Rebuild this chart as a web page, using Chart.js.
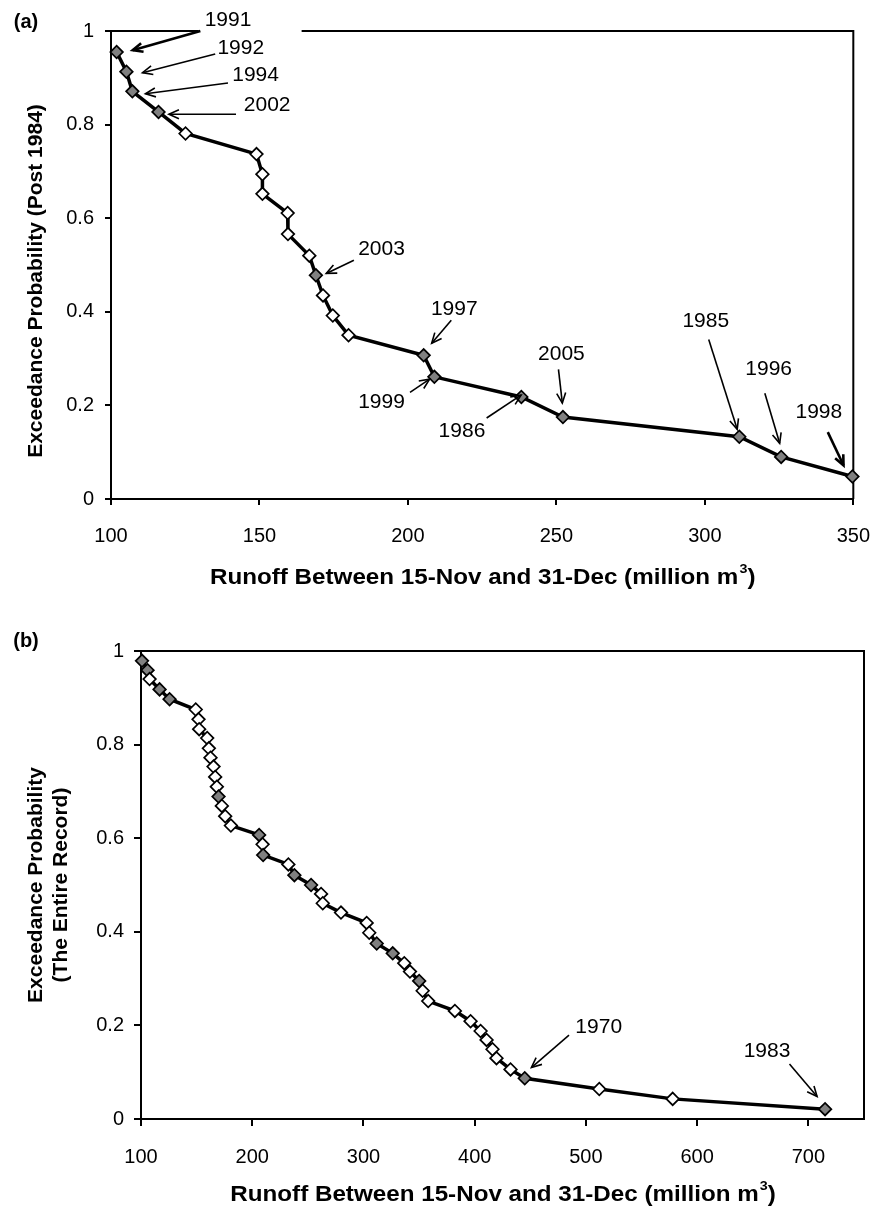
<!DOCTYPE html>
<html>
<head>
<meta charset="utf-8">
<script src="https://cdn.jsdelivr.net/npm/chart.js@4.4.0/dist/chart.umd.min.js"></script>
<style>
  body { margin: 0; background: #fff; }
  canvas { display: block; }
</style>
</head>
<body>
<canvas id="chartA" width="889" height="607"></canvas>
<canvas id="chartB" width="889" height="607"></canvas>
<script>
// (a) post 1984 record
const runoffA = [101.9, 105.2, 107.2, 116.0, 125.1, 149.0, 151.0, 151.0, 159.5, 159.6, 166.8,
                 169.0, 171.4, 174.7, 180.0, 205.3, 208.9, 238.2, 252.2, 311.6, 325.7, 349.7];
const probA = [0.955, 0.913, 0.871, 0.827, 0.781, 0.737, 0.694, 0.652, 0.611, 0.566, 0.520,
               0.478, 0.435, 0.392, 0.350, 0.307, 0.261, 0.218, 0.175, 0.133, 0.090, 0.048];
const markedA = [1, 1, 1, 1, 0, 0, 0, 0, 0, 0, 0, 1, 0, 0, 0, 1, 1, 1, 1, 1, 1, 1];
const xTicksA = [100, 350, 50];

// (b) entire record
const runoffB = [100.9, 105.9, 107.7, 116.7, 125.7, 149.2, 151.7, 152.3, 159.5, 161.0, 162.5, 165.2,
                 166.7, 168.2, 169.7, 172.7, 175.7, 180.8, 206.2, 209.3, 209.8, 232.5, 237.9, 252.9,
                 261.9, 263.4, 279.8, 302.9, 305.2, 311.9, 326.3, 336.7, 341.8, 350.1, 353.2, 358.2,
                 382.2, 396.3, 405.3, 410.7, 416.0, 419.6, 432.2, 445.0, 512.0, 578.0, 715.0];
const probB = [0.979, 0.959, 0.940, 0.918, 0.897, 0.875, 0.854, 0.833, 0.814, 0.792, 0.772, 0.753,
               0.731, 0.710, 0.689, 0.669, 0.647, 0.627, 0.607, 0.587, 0.564, 0.544, 0.521, 0.500,
               0.481, 0.461, 0.441, 0.419, 0.398, 0.375, 0.354, 0.333, 0.315, 0.295, 0.274, 0.252,
               0.231, 0.209, 0.188, 0.169, 0.149, 0.130, 0.106, 0.087, 0.064, 0.043, 0.021];
const markedB = [1, 1, 0, 1, 1, 0, 0, 0, 0, 0, 0, 0, 0, 0, 1, 0, 0, 0, 1, 0, 1, 0, 1, 1,
                 0, 0, 0, 0, 0, 1, 1, 0, 0, 1, 0, 0, 0, 0, 0, 0, 0, 0, 0, 1, 0, 0, 1];
const xTicksB = [100, 750, 100];

// year labels: text spot, arrow tail, arrow head (data units)
const notesA = [
  { t: '1991', tx: 139.4, ty: 1.023, x0: 130.1, y0: 1.000, x1: 107.3, y1: 0.959, w: 2.6 },
  { t: '1992', tx: 143.7, ty: 0.964, x0: 135.1, y0: 0.951, x1: 110.6, y1: 0.911 },
  { t: '1994', tx: 148.7, ty: 0.906, x0: 139.4, y0: 0.889, x1: 111.6, y1: 0.866 },
  { t: '2002', tx: 152.6, ty: 0.842, x0: 142.1, y0: 0.822, x1: 119.5, y1: 0.822 },
  { t: '2003', tx: 191.1, ty: 0.533, x0: 181.8, y0: 0.510, x1: 172.5, y1: 0.482 },
  { t: '1997', tx: 215.6, ty: 0.405, x0: 214.6, y0: 0.382, x1: 208.0, y1: 0.333 },
  { t: '1999', tx: 191.1, ty: 0.207, x0: 200.7, y0: 0.228, x1: 207.3, y1: 0.256 },
  { t: '1986', tx: 218.2, ty: 0.145, x0: 226.5, y0: 0.173, x1: 238.1, y1: 0.222 },
  { t: '2005', tx: 251.7, ty: 0.309, x0: 250.7, y0: 0.277, x1: 252.0, y1: 0.205 },
  { t: '1985', tx: 300.3, ty: 0.380, x0: 301.3, y0: 0.341, x1: 310.9, y1: 0.149 },
  { t: '1996', tx: 321.5, ty: 0.277, x0: 320.2, y0: 0.226, x1: 325.2, y1: 0.119 },
  { t: '1998', tx: 338.4, ty: 0.185, x0: 341.4, y0: 0.143, x1: 346.7, y1: 0.072, w: 2.6 }
];
const notesB = [
  { t: '1970', tx: 511.5, ty: 0.197, x0: 484.8, y0: 0.179, x1: 451.0, y1: 0.110 },
  { t: '1983', tx: 662.8, ty: 0.145, x0: 683.0, y0: 0.1175, x1: 707.8, y1: 0.048 }
];

const FONT = '"Liberation Sans", Arial, Helvetica, sans-serif';

function arrow(ctx, xa, ya, xb, yb, w) {
  const ang = Math.atan2(yb - ya, xb - xa);
  const L = 11, spread = 0.42;
  ctx.lineWidth = w;
  ctx.beginPath();
  ctx.moveTo(xa, ya);
  ctx.lineTo(xb, yb);
  ctx.stroke();
  ctx.beginPath();
  ctx.moveTo(xb - L * Math.cos(ang - spread), yb - L * Math.sin(ang - spread));
  ctx.lineTo(xb, yb);
  ctx.lineTo(xb - L * Math.cos(ang + spread), yb - L * Math.sin(ang + spread));
  ctx.stroke();
}

function drawXTitle(ctx, cx, cy) {
  const main = 'Runoff Between 15-Nov and 31-Dec (million m';
  const big = 'bold 22px ' + FONT, small = 'bold 13px ' + FONT;
  ctx.font = big;
  const w1 = ctx.measureText(main).width, w3 = ctx.measureText(')').width;
  ctx.font = small;
  const w2 = ctx.measureText('3').width;
  ctx.save();
  ctx.translate(cx, cy);
  ctx.scale(1.1, 1);
  const x0 = -(w1 + w2 + w3) / 2;
  ctx.textAlign = 'left';
  ctx.textBaseline = 'middle';
  ctx.font = big;
  ctx.fillText(main, x0, 0);
  ctx.font = small;
  ctx.fillText('3', x0 + w1 + 1, -9);
  ctx.font = big;
  ctx.fillText(')', x0 + w1 + w2 + 1, 0);
  ctx.restore();
}

const decorate = {
  id: 'decorate',
  beforeDatasetsDraw(chart, args, o) {
    const { ctx, chartArea: a, scales: { x } } = chart;
    ctx.save();
    ctx.strokeStyle = '#000';
    ctx.lineWidth = 2;
    ctx.beginPath();
    if (o.topGap) {
      ctx.moveTo(a.left, a.top); ctx.lineTo(x.getPixelForValue(o.topGap[0]), a.top);
      ctx.moveTo(x.getPixelForValue(o.topGap[1]), a.top); ctx.lineTo(a.right, a.top);
    } else {
      ctx.moveTo(a.left, a.top); ctx.lineTo(a.right, a.top);
    }
    ctx.moveTo(a.right, a.top - 1); ctx.lineTo(a.right, a.bottom);
    ctx.stroke();
    ctx.restore();
  },
  afterDatasetsDraw(chart, args, o) {
    const { ctx, chartArea: a, scales: { x, y } } = chart;
    ctx.save();
    ctx.fillStyle = '#000';
    ctx.strokeStyle = '#000';
    ctx.lineCap = 'butt';
    ctx.font = '21px ' + FONT;
    ctx.textAlign = 'center';
    ctx.textBaseline = 'middle';
    o.notes.forEach(n => {
      ctx.fillText(n.t, x.getPixelForValue(n.tx), y.getPixelForValue(n.ty));
      arrow(ctx, x.getPixelForValue(n.x0), y.getPixelForValue(n.y0),
            x.getPixelForValue(n.x1), y.getPixelForValue(n.y1), n.w || 1.6);
    });
    // panel tag
    ctx.font = 'bold 20px ' + FONT;
    ctx.fillText(o.tag, 26, o.tagY);
    // y title
    ctx.font = 'bold 21px ' + FONT;
    o.yTitle.forEach((line, i) => {
      ctx.save();
      ctx.translate(o.yTitleX[i], o.yTitleY);
      ctx.rotate(-Math.PI / 2);
      ctx.fillText(line, 0, 0);
      ctx.restore();
    });
    drawXTitle(ctx, (a.left + a.right) / 2, o.xTitleY);
    ctx.restore();
  }
};

function makeChart(id, xs, ys, marked, xt, cfg) {
  const pts = xs.map((v, i) => ({ x: v, y: ys[i] }));
  return new Chart(document.getElementById(id), {
    type: 'line',
    data: {
      datasets: [{
        data: pts,
        borderColor: '#000',
        borderWidth: 3.5,
        tension: 0,
        clip: false,
        pointStyle: 'rectRot',
        pointRadius: 6.3,
        pointBorderWidth: 1.7,
        pointBorderColor: '#000',
        pointBackgroundColor: c => marked[c.dataIndex] ? '#808080' : '#ffffff'
      }]
    },
    options: {
      responsive: false,
      devicePixelRatio: 1,
      animation: false,
      events: [],
      layout: { padding: { left: 0, top: cfg.top, right: cfg.right, bottom: 0 } },
      plugins: {
        legend: { display: false },
        tooltip: { enabled: false },
        decorate: cfg.deco
      },
      scales: {
        x: {
          type: 'linear',
          min: xt[0], max: xt[1],
          afterBuildTicks: s => { s.ticks = s.ticks.filter(t => (t.value - xt[0]) % xt[2] === 0); },
          afterFit: s => { s.height = cfg.xh; },
          ticks: { stepSize: xt[2], color: '#000', padding: 19, maxRotation: 0, font: { size: 20, family: FONT } },
          grid: { drawOnChartArea: false, drawTicks: true, tickLength: cfg.tick, color: '#000', lineWidth: 2 },
          border: { display: true, color: '#000', width: 2 }
        },
        y: {
          type: 'linear',
          min: 0, max: 1,
          afterFit: s => { s.width = cfg.yw; },
          ticks: {
            stepSize: 0.2, color: '#000', padding: cfg.ypad, font: { size: 20, family: FONT },
            callback: v => String(+v.toFixed(1))
          },
          grid: { drawOnChartArea: false, drawTicks: true, tickLength: cfg.tick, color: '#000', lineWidth: 2 },
          border: { display: true, color: '#000', width: 2 }
        }
      }
    },
    plugins: [decorate]
  });
}

makeChart('chartA', runoffA, probA, markedA, xTicksA, {
  top: 31, right: 24, xh: 108, yw: 111, tick: 6, ypad: 11,
  deco: {
    notes: notesA, topGap: [129.5, 164.2], tag: '(a)', tagY: 22,
    yTitle: ['Exceedance Probability (Post 1984)'], yTitleX: [36], yTitleY: 281,
    xTitleY: 578
  }
});

makeChart('chartB', runoffB, probB, markedB, xTicksB, {
  top: 44, right: 25, xh: 95, yw: 141, tick: 7, ypad: 10,
  deco: {
    notes: notesB, tag: '(b)', tagY: 34,
    yTitle: ['Exceedance Probability', '(The Entire Record)'], yTitleX: [36, 61], yTitleY: 278,
    xTitleY: 588
  }
});
</script>
</body>
</html>
